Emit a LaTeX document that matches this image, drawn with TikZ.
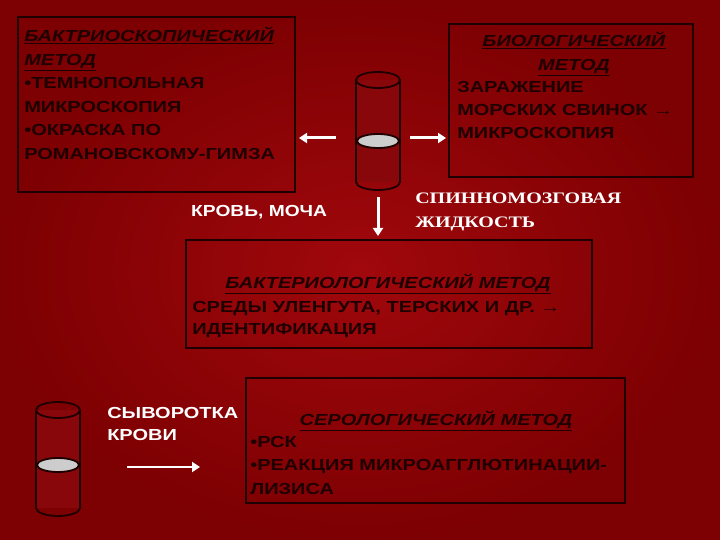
\documentclass[tikz,border=0pt]{standalone}
\usepackage{fontspec}
\setmainfont{Liberation Sans}
\newfontfamily\serifbf{Liberation Serif}
\usetikzlibrary{arrows.meta,shapes.geometric}
\definecolor{bgmid}{RGB}{160,8,12}
\definecolor{bgedge}{RGB}{125,0,2}
\definecolor{ink}{RGB}{30,0,0}
\definecolor{liquid}{RGB}{205,205,205}
\tikzset{
  box/.style={draw=ink,line width=1.8pt},
  txt/.style={text=ink,font=\bfseries\fontsize{16}{23.5}\selectfont,align=left,inner sep=0pt,xscale=1.25},
  wtxt/.style={text=white,font=\bfseries\fontsize{16}{22}\selectfont,align=left,inner sep=0pt,xscale=1.25},
  warrow/.style={draw=white,line width=3pt,-{Triangle[length=8pt,width=10pt]}},
}
\newcommand{\hd}[1]{\underline{\textit{#1}}}
\begin{document}
\begin{tikzpicture}[x=1pt,y=-1pt]
\useasboundingbox (0,0) rectangle (720,540);
\shade[inner color=bgmid,outer color=bgedge] (0,0) rectangle (720,540);
% boxes
\draw[box] (18,17) rectangle (295,192);
\node[txt,anchor=north west] (t1) at (24,27) {\hd{БАКТРИОСКОПИЧЕСКИЙ}\\\hd{МЕТОД}\\•ТЕМНОПОЛЬНАЯ\\МИКРОСКОПИЯ\\•ОКРАСКА ПО\\РОМАНОВСКОМУ-ГИМЗА};
\draw[box] (449,24) rectangle (693,177);
\node[txt,align=center,anchor=north] (t2h) at (574,32) {\hd{БИОЛОГИЧЕСКИЙ}\\\hd{МЕТОД}};
\node[txt,anchor=north west,font=\bfseries\fontsize{16}{23}\selectfont] (t2) at (457,81) {ЗАРАЖЕНИЕ\\МОРСКИХ СВИНОК →\\МИКРОСКОПИЯ};
\draw[box] (186,240) rectangle (592,348);
\node[txt,anchor=north] (t3) at (388,274) {\hd{БАКТЕРИОЛОГИЧЕСКИЙ МЕТОД}};
\node[txt,anchor=north west,font=\bfseries\fontsize{16}{22.5}\selectfont] (t3b) at (192,301) {СРЕДЫ УЛЕНГУТА,  ТЕРСКИХ И ДР. →\\ИДЕНТИФИКАЦИЯ};
\draw[box] (246,378) rectangle (625,503);
\node[txt,anchor=north] (t4) at (436,411) {\hd{СЕРОЛОГИЧЕСКИЙ МЕТОД}};
\node[txt,anchor=north west] (t4b) at (250,436) {•РСК\\•РЕАКЦИЯ МИКРОАГГЛЮТИНАЦИИ-\\ЛИЗИСА};
% cylinder 1
\fill[bgmid!85!black] (356,80) rectangle (400,182);
\fill[liquid] (378,141) ellipse[x radius=21pt,y radius=7pt];
\draw[ink,line width=1.8pt] (378,141) ellipse[x radius=21pt,y radius=7pt];
\draw[ink,line width=1.8pt] (356,80) -- (356,182) arc[start angle=180,end angle=360,x radius=22pt,y radius=8pt] -- (400,80);
\draw[ink,line width=1.8pt] (378,80) ellipse[x radius=22pt,y radius=8pt];
% cylinder 2
\fill[bgmid!85!black] (36,410) rectangle (80,508);
\fill[liquid] (58,465) ellipse[x radius=21pt,y radius=7pt];
\draw[ink,line width=1.8pt] (58,465) ellipse[x radius=21pt,y radius=7pt];
\draw[ink,line width=1.8pt] (36,410) -- (36,508) arc[start angle=180,end angle=360,x radius=22pt,y radius=8pt] -- (80,410);
\draw[ink,line width=1.8pt] (58,410) ellipse[x radius=22pt,y radius=8pt];
% labels
\node[wtxt,anchor=west,xscale=0.96] (k) at (191,212) {КРОВЬ,  МОЧА};
\node[wtxt,font=\serifbf\bfseries\fontsize{16}{24}\selectfont,anchor=north west] (s) at (415,193) {СПИННОМОЗГОВАЯ\\ЖИДКОСТЬ};
\node[wtxt,anchor=north west] (sv) at (107,407) {СЫВОРОТКА\\КРОВИ};
% arrows
\coordinate (a1s) at (336,138); \coordinate (a1e) at (299,138);
\coordinate (a2s) at (410,138); \coordinate (a2e) at (446,138);
\coordinate (a3s) at (378,197); \coordinate (a3e) at (378,236);
\coordinate (a4s) at (127,467); \coordinate (a4e) at (200,467);
\draw[warrow] (a1s) -- (a1e);
\draw[warrow] (a2s) -- (a2e);
\draw[warrow] (a3s) -- (a3e);
\draw[warrow,line width=2pt] (a4s) -- (a4e);
\end{tikzpicture}
\end{document}
